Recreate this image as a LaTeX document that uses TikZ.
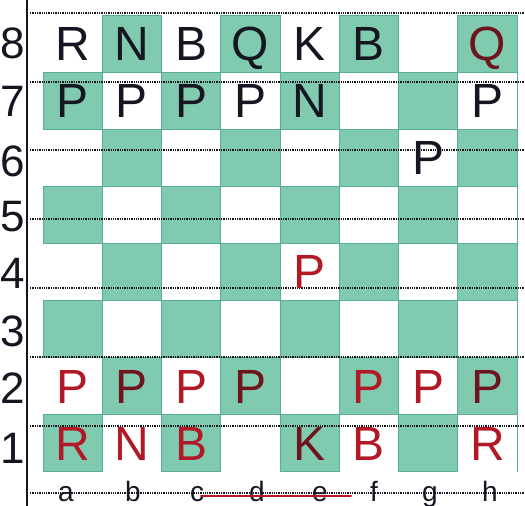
\documentclass[tikz,border=0pt]{standalone}
\usepackage{fontspec}
\setmainfont{Liberation Sans}
\definecolor{sqgreen}{RGB}{128,203,176}
\definecolor{sqedge}{RGB}{90,175,145}
\definecolor{ink}{RGB}{22,22,34}
\definecolor{redink}{RGB}{178,24,38}
\definecolor{darkred}{RGB}{110,20,28}
\begin{document}
\begin{tikzpicture}[x=1pt,y=-1pt,
  piece/.style={inner sep=0pt,text height=34pt,text depth=0pt,anchor=center,font=\fontsize{48}{48}\selectfont},
  ranklbl/.style={inner sep=0pt,text height=32pt,text depth=0pt,anchor=center,font=\fontsize{44}{44}\selectfont,text=ink},
  filelbl/.style={inner sep=0pt,anchor=base,font=\fontsize{28}{28}\selectfont,text=ink},
  ruled/.style={draw=ink,line width=1.3pt,dash pattern=on 1.3pt off 1pt},
  margin/.style={draw=ink,line width=2.4pt},
  square/.style={fill=sqgreen,draw=sqedge,line width=0.8pt}]
\useasboundingbox (0,0) rectangle (525,506);
\fill[white] (0,0) rectangle (525,506);
% squares
\foreach \i in {0,...,7}{
  \foreach \j in {0,...,7}{
    \pgfmathtruncatemacro\odd{mod(\i+\j,2)}
    \ifnum\odd=1
      \path[square] ({43+59.25*\i},{15+57.1*\j}) rectangle ({43+59.25*(\i+1)},{15+57.1*(\j+1)});
    \fi
  }
}
\draw[sqedge,line width=0.8pt] (517,15) -- (517,472);
% ruled lines
\foreach \y/\n in {13/l1,82/l2,150/l3,219/l4,288/l5,357/l6,426/l7,493/l8}{
  \coordinate (\n a) at (30,\y);
  \coordinate (\n b) at (525,\y);
  \draw[ruled] (\n a) -- (\n b);
}
% margin line
\coordinate (mtop) at (27,0);
\coordinate (mbot) at (27,506);
\draw[margin] (mtop) -- (mbot);
% rank numbers
\foreach \r/\y in {8/42,7/100,6/160,5/215,4/272,3/330,2/387,1/447}{
  \node[ranklbl] (rank\r) at (13,\y) {\r};
}
% file letters
\foreach \f/\x in {a/66,b/133,c/197,d/257,e/320,f/374,g/430,h/490}{
  \node[filelbl] (file\f) at (\x,501) {\f};
}
\coordinate (ulA) at (201,496);
\coordinate (ulB) at (351,496);
\draw[redink,line width=2pt,line cap=round] (ulA) -- (ulB);
% pieces
\foreach \n/\i/\r/\c/\t in {
  a8/0/8/ink/R, b8/1/8/ink/N, c8/2/8/ink/B, d8/3/8/ink/Q, e8/4/8/ink/K, f8/5/8/ink/B, h8/7/8/darkred/Q,
  a7/0/7/ink/P, b7/1/7/ink/P, c7/2/7/ink/P, d7/3/7/ink/P, e7/4/7/ink/N, h7/7/7/ink/P,
  g6/6/6/ink/P,
  e4/4/4/redink/P,
  a2/0/2/redink/P, b2/1/2/darkred/P, c2/2/2/redink/P, d2/3/2/darkred/P, f2/5/2/redink/P, g2/6/2/redink/P, h2/7/2/darkred/P,
  a1/0/1/redink/R, b1/1/1/redink/N, c1/2/1/redink/B, e1/4/1/darkred/K, f1/5/1/redink/B, h1/7/1/redink/R}{
  \node[piece,text=\c] (p\n) at ({43+59.25*(\i+0.5)},{15+57.1*(8-\r)+28.5}) {\t};
}
\end{tikzpicture}
\end{document}
